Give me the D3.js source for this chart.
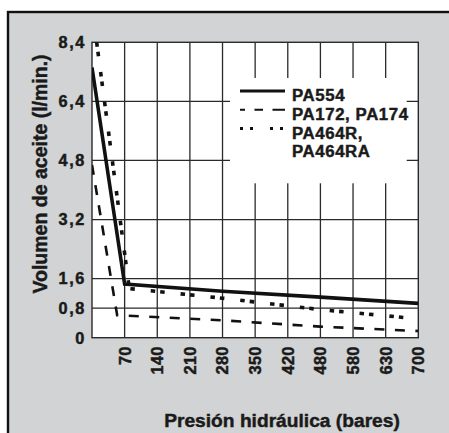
<!DOCTYPE html>
<html>
<head>
<meta charset="utf-8">
<script src="https://cdn.jsdelivr.net/npm/d3@7"></script>
<style>
  body { margin: 0; background: #fff; }
  text { font-family: "Liberation Sans", Arial, sans-serif; font-weight: bold; fill: #1a1a1a;
         stroke: #1a1a1a; stroke-width: 0.45px; }
</style>
</head>
<body>
<svg id="chart"></svg>
<script>
// datos
var xTicks = [0, 70, 140, 210, 280, 350, 420, 480, 580, 630, 700];
var xLabels = ["", "70", "140", "210", "280", "350", "420", "480", "580", "630", "700"];
var yTicks = [0, 0.8, 1.6, 3.2, 4.8, 6.4, 8.4];
var yLabels = ["0", "0,8", "1,6", "3,2", "4,8", "6,4", "8,4"];
var yBreaks = [0, 1.6, 3.2, 4.8, 6.4, 8.4];

var seriesNames = ["PA554", "PA172, PA174", "PA464R,|PA464RA"];
var pa554 = [[0, 7.55], [70, 1.45], [280, 1.26], [480, 1.10], [700, 0.93]];
var pa172 = [[0, 4.68], [54, 0.61], [280, 0.47], [480, 0.30], [700, 0.18]];
var pa464r = [[10, 8.4], [80, 1.33], [280, 1.07], [480, 0.76], [700, 0.51]];

//布局
var W = 449, H = 433;
var margin = {top: 42.3, right: 30.7, bottom: 95.3, left: 92},
    width = W - margin.left - margin.right,
    height = H - margin.top - margin.bottom;

var svg = d3.select("#chart")
    .attr("width", W)
    .attr("height", H);

// marco gris
svg.append("rect")
    .attr("x", 8).attr("y", 12)
    .attr("width", W + 10).attr("height", H + 10)
    .style("fill", "#d1d3d4")
    .style("stroke", "#111")
    .style("stroke-width", 2.4);

var x = d3.scaleLinear()
    .domain(xTicks)
    .range(xTicks.map(function (d, i) { return i * width / (xTicks.length - 1); }));
var y = d3.scaleLinear()
    .domain(yBreaks)
    .range(yBreaks.map(function (d, i) { return height - i * height / (yBreaks.length - 1); }));

var g = svg.append("g")
    .attr("transform", "translate(" + margin.left + "," + margin.top + ")");

g.append("rect")
    .attr("width", width).attr("height", height)
    .style("fill", "#fff");

// rejilla
g.selectAll(".vgrid")
    .data(xTicks.slice(1, -1))
    .enter()
    .append("line")
    .attr("class", "vgrid")
    .attr("x1", function (d) { return x(d); })
    .attr("x2", function (d) { return x(d); })
    .attr("y1", 0).attr("y2", height)
    .style("stroke", "#2a2a2a").style("stroke-width", 1.3);
g.selectAll(".hgrid")
    .data(yTicks.slice(1, -1))
    .enter()
    .append("line")
    .attr("class", "hgrid")
    .attr("y1", function (d) { return y(d); })
    .attr("y2", function (d) { return y(d); })
    .attr("x1", 0).attr("x2", width)
    .style("stroke", "#2a2a2a").style("stroke-width", 1.3);

// caja de leyenda
var lx = 230 - margin.left, ly = 78 - margin.top;
g.append("rect")
    .attr("x", lx).attr("y", ly)
    .attr("width", 176.7).attr("height", 105.3)
    .style("fill", "#fff");

g.append("rect")
    .attr("width", width).attr("height", height)
    .style("fill", "none")
    .style("stroke", "#2a2a2a").style("stroke-width", 1.4);

g.append("clipPath").attr("id", "clip")
    .append("rect").attr("width", width).attr("height", height);

var line = d3.line()
    .x(function (d) { return x(d[0]); })
    .y(function (d) { return y(d[1]); });

var styles = [
    {data: pa554, dash: null, w: 3.6},
    {data: pa172, dash: "10,10.5", w: 2.6},
    {data: pa464r, dash: "4.5,5,4.5,16", w: 3.6}
];

g.selectAll(".serie")
    .data(styles)
    .enter()
    .append("path")
    .attr("class", "serie")
    .attr("clip-path", "url(#clip)")
    .attr("d", function (d) { return line(d.data); })
    .style("fill", "none")
    .style("stroke", "#111")
    .style("stroke-width", function (d) { return d.w; })
    .style("stroke-dasharray", function (d) { return d.dash; });

// leyenda
var leg = g.selectAll(".leg")
    .data(seriesNames)
    .enter()
    .append("g")
    .attr("class", "leg")
    .attr("transform", function (d, i) {
        return "translate(" + (240 - margin.left) + "," + (101 + i * 18.8 - margin.top) + ")";
    });
leg.append("line")
    .attr("x1", 0).attr("x2", 45)
    .attr("y1", -10).attr("y2", -10)
    .style("stroke", "#111")
    .style("stroke-width", function (d, i) { return i == 2 ? 3 : styles[i].w - 0.6; })
    .style("stroke-dasharray", function (d, i) {
        return i == 1 ? "5,9.5,8.5,9.5,12.5" : (i == 2 ? "3,7,3,17,3,7,3" : null);
    });
leg.append("text")
    .attr("x", 52)
    .style("font-size", "16.8px")
    .style("letter-spacing", "0.6px")
    .each(function (d) {
        var parts = d.split("|");
        var t = d3.select(this);
        parts.forEach(function (p, k) {
            t.append("tspan").attr("x", 52).attr("dy", k == 0 ? 0 : 18.8).text(p);
        });
    });

// ejes
g.selectAll(".ylab")
    .data(yTicks)
    .enter()
    .append("text")
    .attr("class", "ylab")
    .attr("x", -6)
    .attr("y", function (d) { return y(d); })
    .attr("dy", "0.36em")
    .attr("text-anchor", "end")
    .style("font-size", "16.3px")
    .style("letter-spacing", "1.6px")
    .text(function (d, i) { return yLabels[i]; });

g.selectAll(".xlab")
    .data(xTicks.slice(1))
    .enter()
    .append("text")
    .attr("class", "xlab")
    .attr("transform", function (d) {
        return "translate(" + x(d) + "," + (height + 8.5) + ") rotate(-90)";
    })
    .attr("dy", "0.36em")
    .attr("text-anchor", "end")
    .style("font-size", "16.3px")
    .style("letter-spacing", "0.4px")
    .text(function (d, i) { return xLabels[i + 1]; });

svg.append("text")
    .attr("transform", "translate(46.5,174) rotate(-90)")
    .attr("text-anchor", "middle")
    .style("font-size", "19.5px")
    .text("Volumen de aceite (l/min.)");

svg.append("text")
    .attr("x", 282)
    .attr("y", 426.7)
    .attr("text-anchor", "middle")
    .style("font-size", "19.2px")
    .text("Presión hidráulica (bares)");
</script>
</body>
</html>
